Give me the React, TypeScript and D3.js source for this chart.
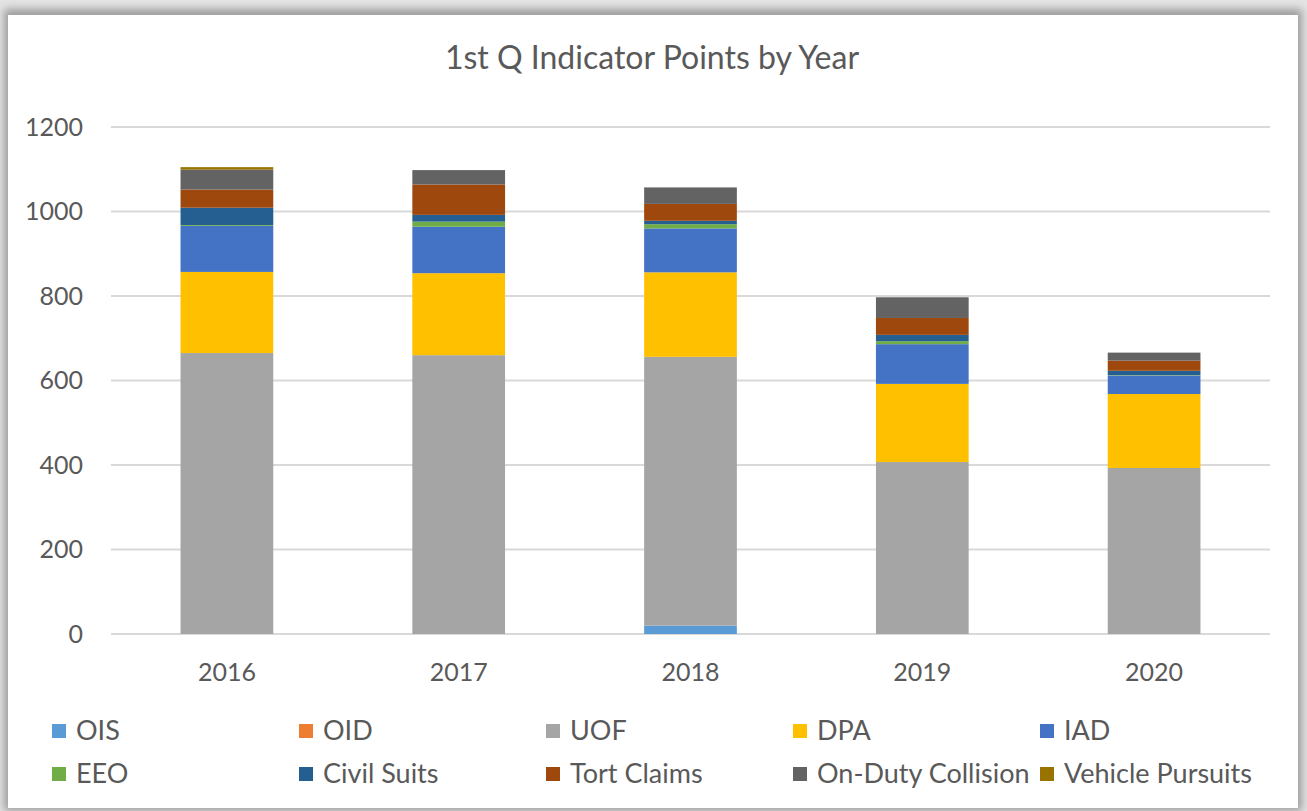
import React, { useEffect, useRef } from 'react';
import * as d3 from 'd3';

const years = ['2016', '2017', '2018', '2019', '2020'];
const seriesNames = ['OIS', 'OID', 'UOF', 'DPA', 'IAD', 'EEO', 'Civil Suits', 'Tort Claims', 'On-Duty Collision', 'Vehicle Pursuits'];
const seriesColors = ['#5B9BD5', '#ED7D31', '#A5A5A5', '#FFC000', '#4472C4', '#70AD47', '#255E91', '#9E480E', '#636363', '#997300'];

const ois = [0, 0, 20, 0, 0];
const oid = [0, 0, 0, 0, 0];
const uof = [665, 660, 636, 407, 393];
const dpa = [192, 194, 200, 185, 175];
const iad = [109, 110, 104, 94, 44];
const eeo = [2, 12, 10, 7, 1];
const civilSuits = [41, 16, 8, 15, 10];
const tortClaims = [43, 72, 40, 40, 24];
const collision = [47, 34, 39, 49, 19];
const pursuits = [6, 0, 0, 0, 0];

const yTicks = [0, 200, 400, 600, 800, 1000, 1200];

const W = 1307;
const H = 811;
const FONT = 'Lato, "Open Sans", sans-serif';
const TEXT = '#595959';

export default function App() {
    const svgRef = useRef<SVGSVGElement>(null);

    useEffect(() => {
        if (!svgRef.current) return;
        const svg = d3.select(svgRef.current);
        svg.selectAll('*').remove();

        const columns = [ois, oid, uof, dpa, iad, eeo, civilSuits, tortClaims, collision, pursuits];
        const rows = years.map((yr, i) => {
            const r: any = { year: yr };
            seriesNames.forEach((s, k) => { r[s] = columns[k][i]; });
            return r;
        });

        // frame + shadow
        const defs = svg.append('defs');
        defs.append('filter').attr('id', 'blur')
            .attr('x', '-5%').attr('y', '-5%').attr('width', '110%').attr('height', '110%')
            .append('feGaussianBlur').attr('stdDeviation', 4);

        svg.append('rect').attr('width', W).attr('height', H).attr('fill', '#e4e4e4');
        svg.append('rect').attr('x', 4).attr('y', 9).attr('width', 1298).attr('height', 802)
            .attr('fill', '#9c9c9c').attr('filter', 'url(#blur)');
        svg.append('rect').attr('x', 8).attr('y', 15).attr('width', 1290).attr('height', 793)
            .attr('fill', '#ffffff');

        const x = d3.scaleBand<string>().domain(years).range([111, 1270])
            .paddingInner(0.6).paddingOuter(0.3);
        const y = d3.scaleLinear().domain([0, 1200]).range([634, 127]);

        // gridlines
        svg.append('g').selectAll('line').data(yTicks).join('line')
            .attr('x1', 111).attr('x2', 1270)
            .attr('y1', d => y(d)).attr('y2', d => y(d))
            .attr('stroke', '#d9d9d9').attr('stroke-width', 2);

        // y labels
        svg.append('g').selectAll('text').data(yTicks).join('text')
            .attr('x', 83).attr('y', d => y(d)).attr('dy', '0.35em')
            .attr('text-anchor', 'end')
            .attr('font-family', FONT).attr('font-size', 25).attr('fill', TEXT)
            .text(d => d);

        // bars
        const stacked = d3.stack<any>().keys(seriesNames)(rows);
        const bars = svg.append('g');
        stacked.forEach((layer, k) => {
            bars.append('g').attr('fill', seriesColors[k])
                .selectAll('rect').data(layer).join('rect')
                .attr('x', d => x(d.data.year) as number)
                .attr('width', x.bandwidth())
                .attr('y', d => y(d[1]))
                .attr('height', d => y(d[0]) - y(d[1]));
        });

        // x labels
        svg.append('g').selectAll('text').data(years).join('text')
            .attr('x', d => (x(d) as number) + x.bandwidth() / 2).attr('y', 672).attr('dy', '0.35em')
            .attr('text-anchor', 'middle')
            .attr('font-family', FONT).attr('font-size', 25).attr('fill', TEXT)
            .text(d => d);

        // title
        svg.append('text').attr('x', 652).attr('y', 58).attr('dy', '0.35em')
            .attr('text-anchor', 'middle')
            .attr('font-family', FONT).attr('font-size', 32).attr('fill', TEXT)
            .text('1st Q Indicator Points by Year');

        // legend
        const legend = svg.append('g');
        seriesNames.forEach((s, k) => {
            const col = k % 5;
            const row = Math.floor(k / 5);
            const lx = 52 + col * 247;
            const ly = 731 + row * 43;
            legend.append('rect').attr('x', lx).attr('y', ly - 7).attr('width', 14).attr('height', 14)
                .attr('fill', seriesColors[k]);
            legend.append('text').attr('x', lx + 24).attr('y', ly).attr('dy', '0.35em')
                .attr('font-family', FONT).attr('font-size', 27).attr('fill', TEXT)
                .text(s);
        });
    }, []);

    return (
        <div style={{ position: 'absolute', left: 0, top: 0, width: W, height: H }}>
            <svg ref={svgRef} width={W} height={H} style={{ display: 'block' }} />
        </div>
    );
}
